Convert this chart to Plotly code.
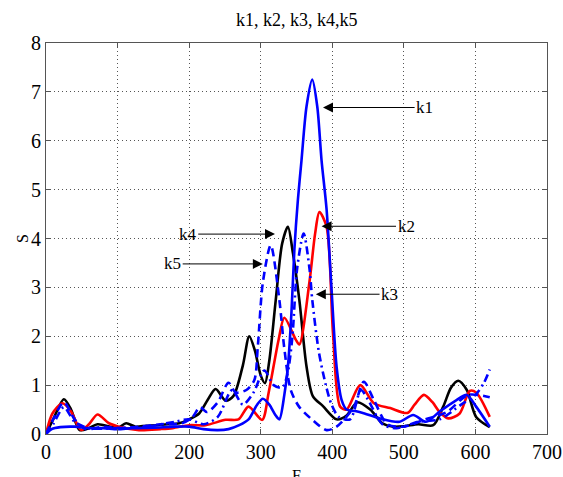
import plotly.graph_objects as go

# ---- data ----
k1_x = [0, 8, 20, 40, 60, 80, 100, 120, 150, 180, 200, 220, 240, 255, 270, 283, 295, 303, 312, 320, 326,
        333, 338, 343, 347, 352, 357, 364, 372, 379, 385, 392, 399, 406, 413, 420, 432, 445, 466, 494,
        513, 531, 550, 573, 588, 601, 620]
k1_y = [0, 0.1, 0.14, 0.15, 0.12, 0.12, 0.1, 0.12, 0.13, 0.15, 0.15, 0.1, 0.08, 0.1, 0.18, 0.3, 0.6, 0.72, 0.6, 0.4, 0.3,
        0.8, 1.38, 2.5, 3.76, 4.8, 5.6, 6.7, 7.25, 6.7, 5.6, 4.6, 2.95, 1.38, 0.7, 0.5, 0.47, 0.42, 0.32, 0.25,
        0.39, 0.25, 0.46, 0.69, 0.8, 0.56, 0.15]

k2_x = [0, 9, 23, 35, 49, 60, 72, 88, 102, 130, 160, 177, 200, 223, 251, 269, 283, 302, 311, 325, 333,
        349, 354, 368, 376, 382, 392, 401, 411, 420, 439, 458, 481, 505, 515, 528, 540, 550, 562, 578,
        592, 601, 620]
k2_y = [0, 0.42, 0.63, 0.46, 0.08, 0.2, 0.4, 0.22, 0.15, 0.08, 0.1, 0.12, 0.18, 0.18, 0.29, 0.3, 0.56, 0.29, 0.84, 1.93, 2.38,
        1.93, 1.83, 3.1, 4.1, 4.54, 4.24, 2.06, 0.56, 0.5, 1.0, 0.63, 0.53, 0.43, 0.6, 0.8, 0.65, 0.45, 0.32, 0.42,
        0.88, 0.85, 0.35]

k3_x = [0, 10, 25, 40, 60, 100, 140, 180, 200, 220, 240, 260, 275, 290, 305, 318, 330, 337, 344, 351,
        360, 368, 372, 381, 391, 399, 409, 425, 440, 450, 470, 490, 520, 550, 580, 600, 612, 620]
k3_y = [0, 0.2, 0.55, 0.25, 0.12, 0.12, 0.15, 0.25, 0.3, 0.2, 0.35, 0.9, 0.6, 0.85, 1.3, 1.0, 0.95, 1.2, 1.95, 3.4,
        4.1, 3.4, 2.75, 1.7, 1.0, 0.6, 0.35, 0.3, 0.9, 0.7, 0.2, 0.12, 0.25, 0.3, 0.6, 0.8, 1.05, 1.32]

k4_x = [0, 10, 25, 35, 47, 60, 72, 90, 100, 112, 125, 140, 153, 170, 186, 200, 214, 226, 237, 251, 262,
        275, 284, 292, 300, 306, 312, 321, 330, 338, 345, 354, 364, 373, 387, 406, 420, 435, 453, 470,
        485, 501, 520, 541, 555, 566, 576, 588, 601, 620]
k4_y = [0, 0.3, 0.71, 0.5, 0.08, 0.12, 0.2, 0.15, 0.12, 0.22, 0.15, 0.17, 0.18, 0.2, 0.22, 0.3, 0.42, 0.7, 0.92, 0.68, 0.78,
        1.4, 2.0, 1.7, 1.2, 1.04, 1.5, 2.74, 3.9, 4.24, 3.7, 2.74, 1.38, 0.77, 0.57, 0.3, 0.38, 0.65, 0.5, 0.22,
        0.15, 0.16, 0.2, 0.18, 0.56, 0.95, 1.09, 0.9, 0.35, 0.14]

k5_x = [0, 10, 25, 40, 55, 80, 100, 130, 160, 190, 205, 215, 225, 240, 255, 265, 280, 291, 296, 303,
        314, 326, 333, 342, 354, 373, 392, 406, 430, 444, 458, 477, 500, 530, 560, 590, 620]
k5_y = [0, 0.3, 0.65, 0.3, 0.1, 0.15, 0.12, 0.15, 0.2, 0.22, 0.35, 0.55, 0.45, 0.65, 1.05, 0.85, 0.9, 1.1, 1.8, 3.1,
        3.86, 2.75, 1.75, 0.9, 0.55, 0.28, 0.08, 0.15, 0.55, 1.07, 0.7, 0.2, 0.15, 0.3, 0.45, 0.8, 0.75]

x_ticks = [0, 100, 200, 300, 400, 500, 600, 700]
y_ticks = [0, 1, 2, 3, 4, 5, 6, 7, 8]

FONT = "Liberation Serif, Times New Roman, serif"

fig = go.Figure()
series = [
    (k4_x, k4_y, "#000000", "solid", "k4"),
    (k2_x, k2_y, "#ff0000", "solid", "k2"),
    (k5_x, k5_y, "#0000ff", "8px,5px", "k5"),
    (k3_x, k3_y, "#0000ff", "8px,4px,2px,4px", "k3"),
    (k1_x, k1_y, "#0000ff", "solid", "k1"),
]
for xs, ys, col, dash, name in series:
    fig.add_trace(go.Scatter(x=xs, y=ys, mode="lines", name=name,
                             line=dict(color=col, width=2.6, dash=dash, shape="spline", smoothing=0.8)))

arrows = [
    ("k1", 387, 6.68, 529, 6.68),
    ("k2", 385, 4.25, 503, 4.25),
    ("k3", 377, 2.86, 480, 2.86),
    ("k4", 320, 4.09, 198, 4.09),
    ("k5", 303, 3.48, 177, 3.48),
]
for txt, x, y, ax, ay in arrows:
    fig.add_annotation(x=x, y=y, ax=ax, ay=ay, xref="x", yref="y", axref="x", ayref="y",
                       text=txt, showarrow=True, arrowhead=2, arrowsize=2.0, arrowwidth=1,
                       arrowcolor="#000000", standoff=0, startstandoff=0,
                       font=dict(family=FONT, size=17, color="#000000"))

fig.add_annotation(x=0.5, y=1.0588, xref="paper", yref="paper", text="k1, k2, k3, k4,k5",
                   showarrow=False, yanchor="middle", font=dict(family=FONT, size=18, color="#000000"))
fig.add_annotation(x=-0.068, y=0.5, xref="paper", yref="paper", text="S", textangle=-90,
                   showarrow=False, font=dict(family=FONT, size=16, color="#000000"))
fig.add_annotation(x=0.5, y=-0.079, xref="paper", yref="paper", text="F", yanchor="top",
                   showarrow=False, font=dict(family=FONT, size=16, color="#000000"))

axis_common = dict(showline=True, linecolor="#555555", linewidth=1, mirror="ticks",
                   ticks="inside", ticklen=5, tickcolor="#555555",
                   showgrid=True, gridcolor="#555555", griddash="1px,3px", gridwidth=1,
                   zeroline=False, tickfont=dict(family=FONT, size=20, color="#000000"))
fig.update_xaxes(range=[0, 700], tickvals=x_ticks, **axis_common)
fig.update_yaxes(range=[0, 8], tickvals=y_ticks, **axis_common)

fig.update_layout(width=563, height=477, margin=dict(l=46, r=16, t=43, b=43, autoexpand=False),
                  paper_bgcolor="white", plot_bgcolor="white", showlegend=False)

fig.write_html("out.html", config={"displayModeBar": False},
               post_script="document.body.style.margin='0';document.body.style.overflow='hidden';")
